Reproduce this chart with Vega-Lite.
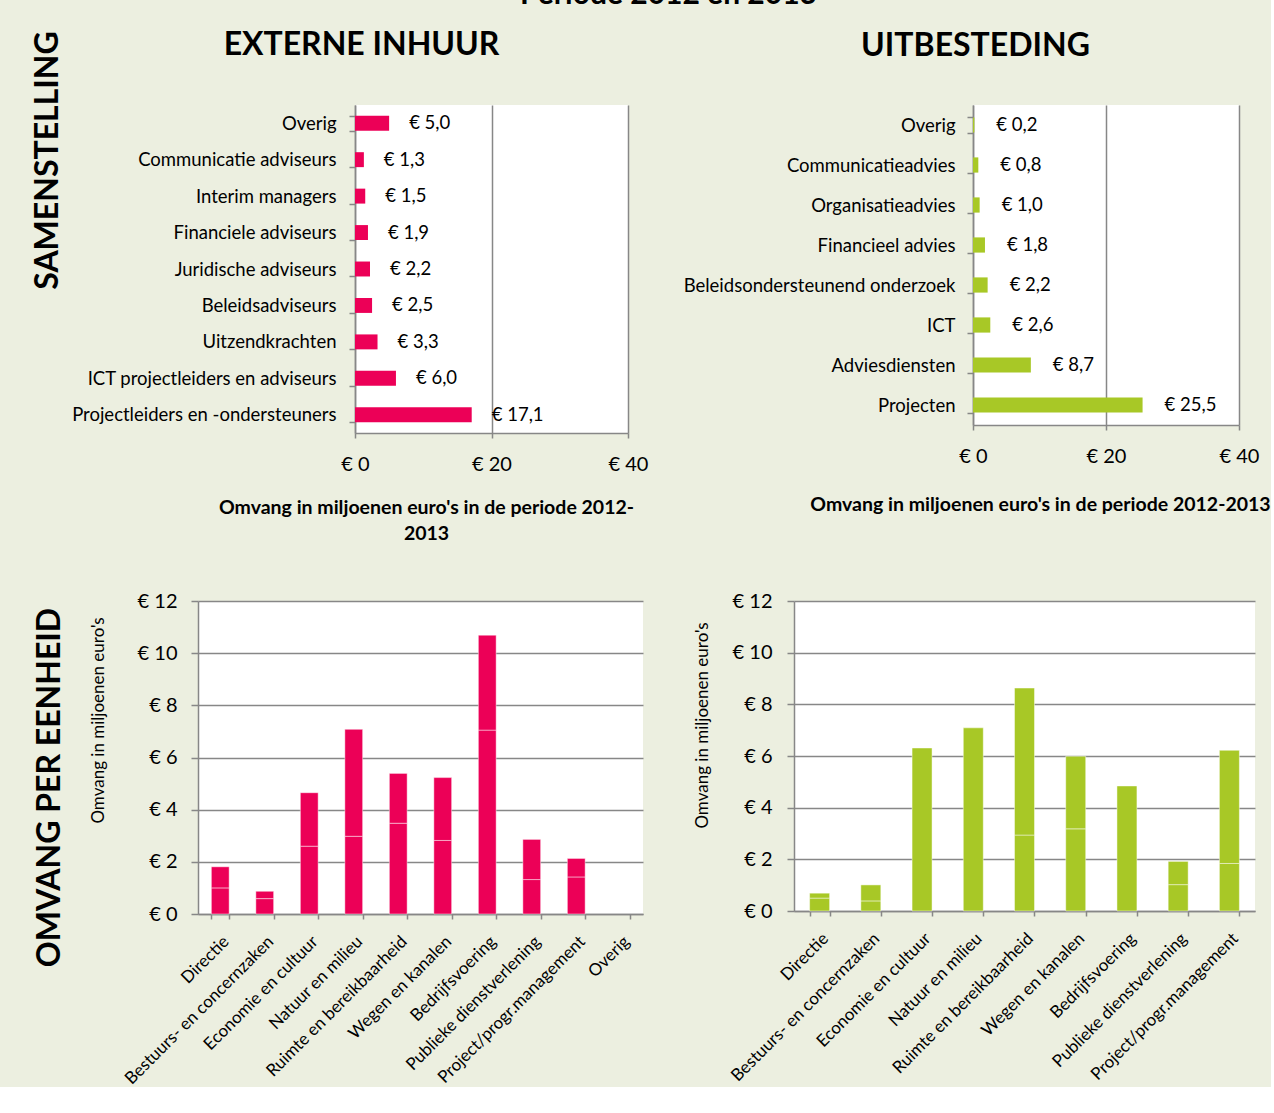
{
  "$schema": "https://vega.github.io/schema/vega-lite/v6.json",
  "background": "#ECEFE0",
  "padding": {"left": -22, "top": -20, "right": 0, "bottom": 0},
  "title": {"text": "Periode 2012 en 2013", "fontSize": 30, "fontWeight": "bold", "anchor": "middle", "offset": 18, "dx": 44, "color": "#000000"},
  "config": {
    "font": "Lato",
    "locale": {"number": {"decimal": ",", "thousands": ".", "grouping": [3], "currency": ["€ ", ""]}},
    "view": {"stroke": null, "fill": "#ffffff"},
    "axis": {"domainColor": "#878787", "domainWidth": 1.5, "tickColor": "#878787", "tickWidth": 1.5, "gridColor": "#878787", "gridWidth": 1.5, "labelColor": "#000000", "titleColor": "#000000", "labelFont": "Lato", "titleFont": "Lato", "labelLimit": 400, "labelOverlap": false, "labelFlush": false},
    "title": {"font": "Lato", "color": "#000000"}
  },
  "datasets": {
    "leeg": [{}],
    "inhuur": [
      {"soort": "Overig", "waarde": 5.0},
      {"soort": "Communicatie adviseurs", "waarde": 1.3},
      {"soort": "Interim managers", "waarde": 1.5},
      {"soort": "Financiele adviseurs", "waarde": 1.9},
      {"soort": "Juridische adviseurs", "waarde": 2.2},
      {"soort": "Beleidsadviseurs", "waarde": 2.5},
      {"soort": "Uitzendkrachten", "waarde": 3.3},
      {"soort": "ICT projectleiders en adviseurs", "waarde": 6.0},
      {"soort": "Projectleiders en -ondersteuners", "waarde": 17.1}
    ],
    "uitbesteding": [
      {"soort": "Overig", "waarde": 0.2},
      {"soort": "Communicatieadvies", "waarde": 0.8},
      {"soort": "Organisatieadvies", "waarde": 1.0},
      {"soort": "Financieel advies", "waarde": 1.8},
      {"soort": "Beleidsondersteunend onderzoek", "waarde": 2.2},
      {"soort": "ICT", "waarde": 2.6},
      {"soort": "Adviesdiensten", "waarde": 8.7},
      {"soort": "Projecten", "waarde": 25.5}
    ],
    "eenheid_inhuur": [
      {"eenheid": "Directie", "segment": 1, "waarde": 1.0},
      {"eenheid": "Directie", "segment": 2, "waarde": 0.81},
      {"eenheid": "Bestuurs- en concernzaken", "segment": 1, "waarde": 0.59},
      {"eenheid": "Bestuurs- en concernzaken", "segment": 2, "waarde": 0.28},
      {"eenheid": "Economie en cultuur", "segment": 1, "waarde": 2.6},
      {"eenheid": "Economie en cultuur", "segment": 2, "waarde": 2.05},
      {"eenheid": "Natuur en milieu", "segment": 1, "waarde": 2.98},
      {"eenheid": "Natuur en milieu", "segment": 2, "waarde": 4.1},
      {"eenheid": "Ruimte en bereikbaarheid", "segment": 1, "waarde": 3.48},
      {"eenheid": "Ruimte en bereikbaarheid", "segment": 2, "waarde": 1.91},
      {"eenheid": "Wegen en kanalen", "segment": 1, "waarde": 2.82},
      {"eenheid": "Wegen en kanalen", "segment": 2, "waarde": 2.41},
      {"eenheid": "Bedrijfsvoering", "segment": 1, "waarde": 7.05},
      {"eenheid": "Bedrijfsvoering", "segment": 2, "waarde": 3.64},
      {"eenheid": "Publieke dienstverlening", "segment": 1, "waarde": 1.32},
      {"eenheid": "Publieke dienstverlening", "segment": 2, "waarde": 1.54},
      {"eenheid": "Project/progr.management", "segment": 1, "waarde": 1.42},
      {"eenheid": "Project/progr.management", "segment": 2, "waarde": 0.71}
    ],
    "eenheid_uitbesteding": [
      {"eenheid": "Directie", "segment": 1, "waarde": 0.5},
      {"eenheid": "Directie", "segment": 2, "waarde": 0.19},
      {"eenheid": "Bestuurs- en concernzaken", "segment": 1, "waarde": 0.39},
      {"eenheid": "Bestuurs- en concernzaken", "segment": 2, "waarde": 0.62},
      {"eenheid": "Economie en cultuur", "segment": 1, "waarde": 6.31},
      {"eenheid": "Natuur en milieu", "segment": 1, "waarde": 7.09},
      {"eenheid": "Ruimte en bereikbaarheid", "segment": 1, "waarde": 2.94},
      {"eenheid": "Ruimte en bereikbaarheid", "segment": 2, "waarde": 5.69},
      {"eenheid": "Wegen en kanalen", "segment": 1, "waarde": 3.18},
      {"eenheid": "Wegen en kanalen", "segment": 2, "waarde": 2.81},
      {"eenheid": "Bedrijfsvoering", "segment": 1, "waarde": 4.84},
      {"eenheid": "Publieke dienstverlening", "segment": 1, "waarde": 1.02},
      {"eenheid": "Publieke dienstverlening", "segment": 2, "waarde": 0.9},
      {"eenheid": "Project/progr.management", "segment": 1, "waarde": 1.84},
      {"eenheid": "Project/progr.management", "segment": 2, "waarde": 4.38}
    ]
  },
  "concat": [
    {
      "spacing": 35,
      "hconcat": [
        {
          "width": 15,
          "height": 1,
          "view": {"fill": "#ECEFE0", "stroke": null},
          "data": {"name": "leeg"},
          "mark": {"type": "point", "opacity": 0},
          "encoding": {}
        },
        {
          "width": 273,
          "height": 328,
          "data": {"name": "inhuur"},
          "encoding": {
            "y": {"field": "soort", "type": "nominal", "sort": null, "scale": {"paddingInner": 0.59},
              "axis": {"title": "SAMENSTELLING", "titleFontSize": 32, "titleFontWeight": "bold", "titleX": -308, "titleY": 55, "titleAngle": -90, "titleAlign": "center", "titleBaseline": "middle",
                "labelFontSize": 18.5, "tickBand": "extent", "tickSize": 6, "labelPadding": 13, "grid": false}}
          },
          "layer": [
            {
              "mark": {"type": "bar", "color": "#EC0057"},
              "encoding": {
                "x": {"field": "waarde", "type": "quantitative", "scale": {"domain": [0, 40]},
                  "axis": {"values": [0, 20, 40], "format": "$.0f", "grid": true, "labelFontSize": 20, "labelPadding": 16, "tickSize": 5,
                    "title": ["Omvang in miljoenen euro's in de periode 2012-", "2013"], "titleFontSize": 19.5, "titleFontWeight": "bold", "titleX": 71, "titleY": 65, "titleAlign": "center", "titleBaseline": "top", "titleLineHeight": 26, "titleAngle": 0}}
              }
            },
            {
              "mark": {"type": "text", "align": "left", "baseline": "middle", "dx": 20, "fontSize": 18.5},
              "encoding": {
                "x": {"field": "waarde", "type": "quantitative",
                  "axis": {"orient": "top", "labels": false, "ticks": false, "domain": false, "grid": false, "title": "EXTERNE INHUUR", "titleFontSize": 32, "titleFontWeight": "bold", "titleX": 6, "titleY": -61, "titleAlign": "center", "titleBaseline": "middle", "titleAngle": 0}},
                "text": {"field": "waarde", "type": "quantitative", "format": "$.1f"}
              }
            }
          ],
          "resolve": {"axis": {"x": "independent"}}
        },
        {
          "width": 266,
          "height": 320,
          "data": {"name": "uitbesteding"},
          "encoding": {
            "y": {"field": "soort", "type": "nominal", "sort": null, "scale": {"paddingInner": 0.62},
              "axis": {"title": null, "labelFontSize": 18.5, "tickBand": "extent", "tickSize": 6, "labelPadding": 12, "grid": false}}
          },
          "layer": [
            {
              "mark": {"type": "bar", "color": "#A8C826"},
              "encoding": {
                "x": {"field": "waarde", "type": "quantitative", "scale": {"domain": [0, 40]},
                  "axis": {"values": [0, 20, 40], "format": "$.0f", "grid": true, "labelFontSize": 20, "labelPadding": 16, "tickSize": 5,
                    "title": "Omvang in miljoenen euro's in de periode 2012-2013", "titleFontSize": 19.5, "titleFontWeight": "bold", "titleX": 67, "titleY": 70, "titleAlign": "center", "titleBaseline": "top", "titleAngle": 0}}
              }
            },
            {
              "mark": {"type": "text", "align": "left", "baseline": "middle", "dx": 22, "fontSize": 18.5},
              "encoding": {
                "x": {"field": "waarde", "type": "quantitative",
                  "axis": {"orient": "top", "labels": false, "ticks": false, "domain": false, "grid": false, "title": "UITBESTEDING", "titleFontSize": 32, "titleFontWeight": "bold", "titleX": 2, "titleY": -60, "titleAlign": "center", "titleBaseline": "middle", "titleAngle": 0}},
                "text": {"field": "waarde", "type": "quantitative", "format": "$.1f"}
              }
            }
          ],
          "resolve": {"axis": {"x": "independent"}}
        }
      ]
    },
    {
      "spacing": 49,
      "hconcat": [
        {
          "width": 1,
          "height": 1,
          "view": {"fill": "#ECEFE0", "stroke": null},
          "data": {"name": "leeg"},
          "mark": {"type": "point", "opacity": 0},
          "encoding": {}
        },
        {
          "title": {"text": "OMVANG PER EENHEID", "orient": "left", "anchor": "middle", "frame": "group", "fontSize": 32, "fontWeight": "bold", "offset": 22, "dx": -30, "color": "#000000"},
          "width": 445,
          "height": 313,
          "data": {"name": "eenheid_inhuur"},
          "mark": {"type": "bar", "color": "#EC0057", "stroke": "#ffffff", "strokeWidth": 1, "strokeOpacity": 0.45},
          "encoding": {
            "x": {"field": "eenheid", "type": "nominal",
              "scale": {"domain": ["Directie", "Bestuurs- en concernzaken", "Economie en cultuur", "Natuur en milieu", "Ruimte en bereikbaarheid", "Wegen en kanalen", "Bedrijfsvoering", "Publieke dienstverlening", "Project/progr.management", "Overig"], "paddingInner": 0.6},
              "axis": {"title": null, "labelAngle": -45, "labelAlign": "right", "labelBaseline": "top", "labelFontSize": 17, "labelPadding": 14, "tickBand": "extent", "tickSize": 5}},
            "y": {"field": "waarde", "type": "quantitative", "stack": "zero", "scale": {"domain": [0, 12]},
              "axis": {"values": [0, 2, 4, 6, 8, 10, 12], "format": "$.0f", "grid": true, "labelFontSize": 20, "labelPadding": 14, "tickSize": 7,
                "title": "Omvang in miljoenen euro's", "titleFontSize": 17, "titleFontWeight": "normal", "titlePadding": 39, "titleY": 119, "titleAlign": "center", "titleBaseline": "middle", "titleAngle": -90}},
            "detail": {"field": "segment"},
            "order": {"field": "segment"}
          }
        },
        {
          "width": 461,
          "height": 310,
          "data": {"name": "eenheid_uitbesteding"},
          "mark": {"type": "bar", "color": "#A8C826", "stroke": "#ffffff", "strokeWidth": 1, "strokeOpacity": 0.45},
          "encoding": {
            "x": {"field": "eenheid", "type": "nominal",
              "scale": {"domain": ["Directie", "Bestuurs- en concernzaken", "Economie en cultuur", "Natuur en milieu", "Ruimte en bereikbaarheid", "Wegen en kanalen", "Bedrijfsvoering", "Publieke dienstverlening", "Project/progr.management"], "paddingInner": 0.61},
              "axis": {"title": null, "labelAngle": -45, "labelAlign": "right", "labelBaseline": "top", "labelFontSize": 17, "labelPadding": 14, "tickBand": "extent", "tickSize": 5}},
            "y": {"field": "waarde", "type": "quantitative", "stack": "zero", "scale": {"domain": [0, 12]},
              "axis": {"values": [0, 2, 4, 6, 8, 10, 12], "format": "$.0f", "grid": true, "labelFontSize": 20, "labelPadding": 15, "tickSize": 7,
                "title": "Omvang in miljoenen euro's", "titleFontSize": 17, "titleFontWeight": "normal", "titleX": -92, "titleY": 124, "titleAlign": "center", "titleBaseline": "middle", "titleAngle": -90}},
            "detail": {"field": "segment"},
            "order": {"field": "segment"}
          }
        }
      ]
    }
  ],
  "columns": 1,
  "align": "none",
  "spacing": 48
}
